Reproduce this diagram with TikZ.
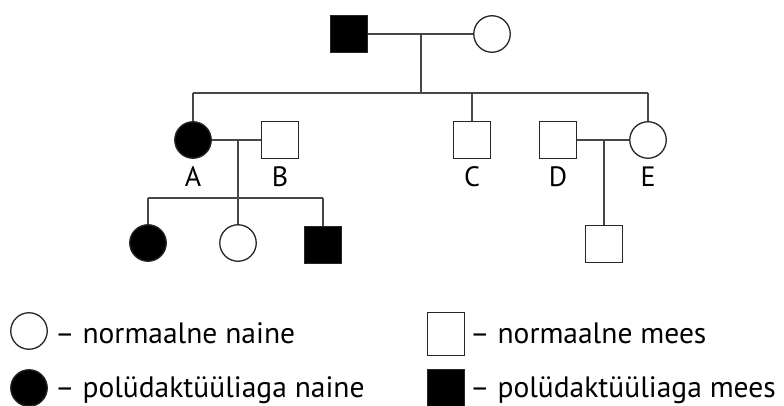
\documentclass[tikz,border=0pt]{standalone}
\usepackage{fontspec}
\setmainfont{PT Sans}
\begin{document}
\begin{tikzpicture}[x=1pt,y=-1pt,
  male/.style={draw=black!85, rectangle, line width=1.3pt, minimum size=36.5pt, inner sep=0pt},
  female/.style={draw=black!85, circle, line width=1.3pt, minimum size=36.5pt, inner sep=0pt},
  aff/.style={fill=black},
  link/.style={draw=black!72, line width=1.6pt},
  lbl/.style={font=\fontsize{28}{30}\selectfont, inner sep=0pt, anchor=base},
  legtext/.style={font=\fontsize{29.5}{32}\selectfont, inner sep=0pt, anchor=base west}]
\useasboundingbox (0,0) rectangle (784,406);

% generation I
\node[male,aff] (p1) at (349,34) {};
\node[female] (p2) at (492,34) {};
\coordinate (m1) at (421,34);
\coordinate (s1) at (421,93);
\coordinate (s1L) at (193,93);
\coordinate (s1R) at (648,93);

% generation II
\node[female,aff] (A) at (193,140) {};
\node[male] (B) at (280,140) {};
\node[male] (C) at (472,140) {};
\node[male] (D) at (558,140) {};
\node[female] (E) at (648,140) {};
\coordinate (m2) at (238,140);
\coordinate (s2) at (238,198);
\coordinate (s2L) at (148,198);
\coordinate (s2R) at (323,198);
\coordinate (m3) at (604,140);

\node[lbl] at (193,186) {A};
\node[lbl] at (280,186) {B};
\node[lbl] at (472,186) {C};
\node[lbl] at (558,186) {D};
\node[lbl] at (648,186) {E};

% generation III
\node[female,aff] (k1) at (148,243) {};
\node[female] (k2) at (238,243) {};
\node[male,aff] (k3) at (323,245) {};
\node[male] (k4) at (604,244) {};

% connectors
\draw[link] (p1) -- (p2);
\draw[link] (m1) -- (s1);
\draw[link] (s1L) -- (s1R);
\draw[link] (s1L) -- (A);
\draw[link] (C.north |- s1) -- (C);
\draw[link] (s1R) -- (E);
\draw[link] (A) -- (B);
\draw[link] (m2) -- (s2);
\draw[link] (s2L) -- (s2R);
\draw[link] (s2L) -- (k1);
\draw[link] (s2) -- (k2);
\draw[link] (s2R) -- (k3);
\draw[link] (D) -- (E);
\draw[link] (m3) -- (k4);

% legend
\node[female] (lg1) at (29,331) {};
\node[legtext] at (55,343) {– normaalne naine};
\node[female,aff] (lg2) at (29,388) {};
\node[legtext] at (55,397) {– polüdaktüüliaga naine};
\node[male, minimum width=36.5pt, minimum height=43pt] (lg3) at (446,334) {};
\node[legtext] at (470,343) {– normaalne mees};
\node[male,aff] (lg4) at (446,388) {};
\node[legtext] at (470,397) {– polüdaktüüliaga mees};
\end{tikzpicture}
\end{document}
